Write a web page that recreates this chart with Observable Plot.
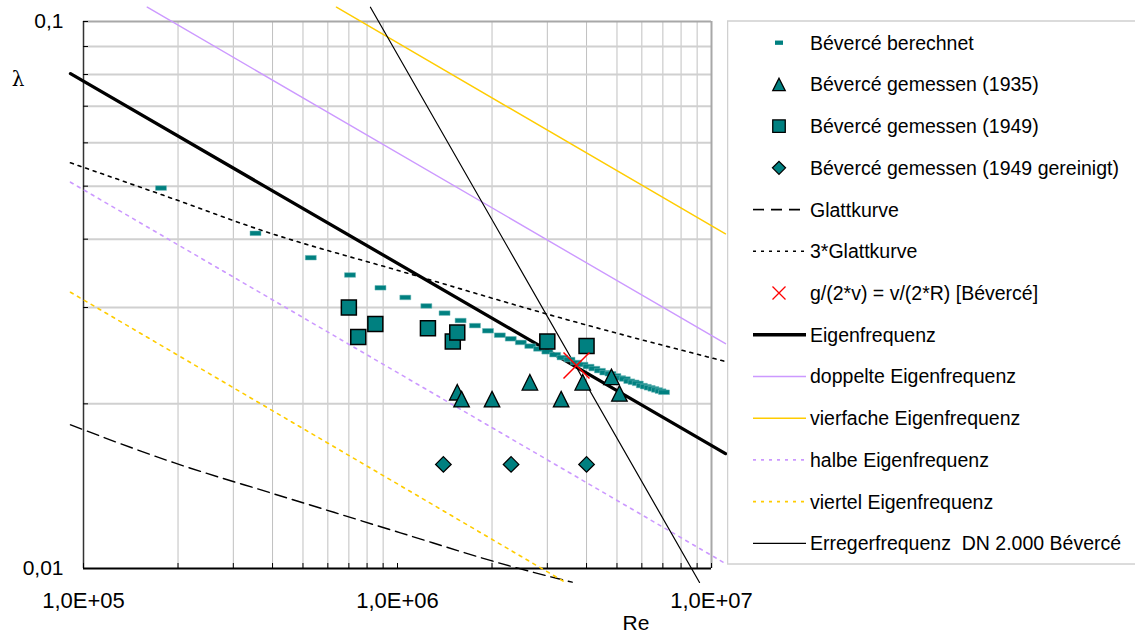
<!DOCTYPE html>
<html><head><meta charset="utf-8">
<script src="https://cdn.jsdelivr.net/npm/d3@7"></script>
<script src="https://cdn.jsdelivr.net/npm/@observablehq/plot@0.6"></script>
<style>
html,body{margin:0;padding:0;background:#fff;overflow:hidden}
#wrap{position:relative;width:1135px;height:634px;font-family:"Liberation Sans",Arial,sans-serif}
#chart{position:absolute;left:0;top:0}
#legend{position:absolute;left:727px;top:0}
</style></head><body>
<div id="wrap"><div id="chart"></div><svg id="legend" width="408" height="634"></svg></div>
<script>
// ---------- axis ticks ----------
const reTicks = [1e5, 1e6, 1e7];
const reTickLabels = ["1,0E+05", "1,0E+06", "1,0E+07"];
const reMinor = [2e5, 3e5, 4e5, 5e5, 6e5, 7e5, 8e5, 9e5, 2e6, 3e6, 4e6, 5e6, 6e6, 7e6, 8e6, 9e6];
const lambdaTicks = [0.01, 0.1];
const lambdaTickLabels = ["0,01", "0,1"];
const lambdaMinor = [0.02, 0.03, 0.04, 0.05, 0.06, 0.07, 0.08, 0.09];

// ---------- scatter series ----------
const berechnetRe = [176500, 353000, 529500, 706000, 882500, 1059000, 1235500, 1412000, 1588500, 1765000,
  1941500, 2118000, 2294500, 2471000, 2647500, 2824000, 3000500, 3177000, 3353500, 3530000,
  3706500, 3883000, 4059500, 4236000, 4412500, 4589000, 4765500, 4942000, 5118500, 5295000,
  5471500, 5648000, 5824500, 6001000, 6177500, 6354000, 6530500, 6707000, 6883500, 7060000];
const berechnetLambda = [0.0496, 0.0410, 0.0370, 0.0344, 0.0326, 0.0313, 0.0302, 0.0293, 0.0284, 0.0278,
  0.0272, 0.0267, 0.0263, 0.0259, 0.0255, 0.0252, 0.0249, 0.0246, 0.0243, 0.0241,
  0.0238, 0.0236, 0.0234, 0.0232, 0.0230, 0.0228, 0.0227, 0.0225, 0.0223, 0.0222,
  0.0220, 0.0219, 0.0218, 0.0216, 0.0215, 0.0214, 0.0213, 0.0212, 0.0211, 0.0210];

const gem1935Re = [1550000, 1600000, 2000000, 2640000, 3320000, 3890000, 4800000, 5090000];
const gem1935Lambda = [0.0210, 0.0204, 0.0204, 0.0219, 0.0204, 0.0219, 0.0224, 0.0209];

const gem1949Re = [700000, 750000, 850000, 1250000, 1500000, 1550000, 3000000, 4000000];
const gem1949Lambda = [0.0300, 0.0265, 0.0280, 0.0275, 0.0260, 0.0270, 0.0260, 0.0255];

const gereinigtRe = [1400000, 2300000, 4000000];
const gereinigtLambda = [0.0155, 0.0155, 0.0155];

const kreuzRe = [3716000];
const kreuzLambda = [0.0235];

// ---------- line series ----------
const glattRe = [90900, 194000, 404000, 627000, 1022000, 2346000, 3600000];
const glattLambda = [0.01831, 0.01561, 0.01369, 0.01267, 0.01162, 0.01006, 0.00944];
const glatt3Re = [90900, 180000, 385000, 1022000, 3470000, 11080000];
const glatt3Lambda = [0.05516, 0.0481, 0.04119, 0.03496, 0.0285, 0.0239];
const eigenRe = [90900, 11080000];
const eigenLambda = [0.0803, 0.01622];
const doppeltRe = [159600, 11080000];
const doppeltLambda = [0.1062, 0.02576];
const vierfachRe = [639000, 11080000];
const vierfachLambda = [0.1062, 0.0409];
const halbeRe = [90900, 11080000];
const halbeLambda = [0.05084, 0.01021];
const viertelRe = [90900, 3428000];
const viertelLambda = [0.03199, 0.00943];
const erregerRe = [820000, 9160000];
const erregerLambda = [0.1062, 0.00943];

const legendLabels = ["Bévercé berechnet", "Bévercé gemessen (1935)", "Bévercé gemessen (1949)",
  "Bévercé gemessen (1949 gereinigt)", "Glattkurve", "3*Glattkurve", "g/(2*v) = v/(2*R) [Bévercé]",
  "Eigenfrequenz", "doppelte Eigenfrequenz", "vierfache Eigenfrequenz", "halbe Eigenfrequenz",
  "viertel Eigenfrequenz", "Erregerfrequenz  DN 2.000 Bévercé"];

const TEAL = "#008080", LILA = "#cc99ff", GELB = "#ffcc00";

const zip = (xs, ys) => xs.map((x, i) => ({x, y: ys[i]}));

// custom marker symbols (s = size in px)
const mk = {
  dash: (w, h) => ({draw(c) { c.rect(-w / 2, -h / 2, w, h); }}),
  square: s => ({draw(c) { c.rect(-s / 2, -s / 2, s, s); }}),
  tri: s => ({draw(c) { c.moveTo(0, -s / 2); c.lineTo(s / 2, s / 2); c.lineTo(-s / 2, s / 2); c.closePath(); }}),
  diamond: s => ({draw(c) { c.moveTo(0, -s / 2); c.lineTo(s / 2, 0); c.lineTo(0, s / 2); c.lineTo(-s / 2, 0); c.closePath(); }}),
  cross: s => ({draw(c) { c.moveTo(-s / 2, -s / 2); c.lineTo(s / 2, s / 2); c.moveTo(s / 2, -s / 2); c.lineTo(-s / 2, s / 2); }})
};

const lineSeries = [
  {data: zip(glattRe, glattLambda), stroke: "#000", w: 1.4, dash: "12,6", curve: "monotone-x"},
  {data: zip(glatt3Re, glatt3Lambda), stroke: "#000", w: 1.6, dash: "3,5", curve: "monotone-x"},
  {data: zip(halbeRe, halbeLambda), stroke: LILA, w: 1.6, dash: "3,5"},
  {data: zip(viertelRe, viertelLambda), stroke: GELB, w: 1.6, dash: "3,5"},
  {data: zip(doppeltRe, doppeltLambda), stroke: LILA, w: 1.4},
  {data: zip(vierfachRe, vierfachLambda), stroke: GELB, w: 1.4},
  {data: zip(eigenRe, eigenLambda), stroke: "#000", w: 3.3},
  {data: zip(erregerRe, erregerLambda), stroke: "#000", w: 1.2}
];

const xFmt = new Map(reTicks.map((d, i) => [d, reTickLabels[i]]));
const yFmt = new Map(lambdaTicks.map((d, i) => [d, lambdaTickLabels[i]]));

const chart = Plot.plot({
  width: 727, height: 634,
  marginLeft: 83, marginRight: 16, marginTop: 21, marginBottom: 66,
  style: {fontFamily: '"Liberation Sans", Arial, sans-serif', background: "transparent", overflow: "visible"},
  x: {type: "log", domain: [1e5, 1e7]},
  y: {type: "log", domain: [0.01, 0.1]},
  marks: [
    Plot.gridX(reMinor, {stroke: "#c0c0c0", strokeOpacity: 1, strokeWidth: 1}),
    Plot.gridY(lambdaMinor, {stroke: "#d0d0d0", strokeOpacity: 1, strokeWidth: 2}),
    Plot.ruleY([0.1], {stroke: "#a8a8a8", strokeWidth: 2}),
    Plot.ruleX([1e7], {stroke: "#a8a8a8", strokeWidth: 2}),
    Plot.ruleX([1e5], {stroke: "#333", strokeWidth: 1.5}),
    Plot.ruleY([0.01], {stroke: "#000", strokeWidth: 2}),
    Plot.axisX({ticks: [...reTicks, ...reMinor], tickSize: -5, tickFormat: () => "", stroke: "#000", label: null}),
    Plot.axisY({ticks: [...lambdaTicks, ...lambdaMinor], tickSize: -5, tickFormat: () => "", stroke: "#000", label: null}),
    Plot.axisX({ticks: reTicks, tickSize: 0, tickPadding: 24, tickFormat: d => xFmt.get(d), fontSize: 22, fill: "#000", label: null}),
    Plot.axisY({ticks: lambdaTicks, tickSize: 0, tickPadding: 20, tickFormat: d => yFmt.get(d), fontSize: 21, fill: "#000", label: null}),
    ...lineSeries.map(s => Plot.line(s.data, {x: "x", y: "y", stroke: s.stroke, strokeWidth: s.w,
      strokeDasharray: s.dash, curve: s.curve || "linear"})),
    Plot.dot(zip(berechnetRe, berechnetLambda), {x: "x", y: "y", symbol: mk.dash(11, 4.6), fill: TEAL, stroke: "#6fb8b8", strokeWidth: 0.5}),
    Plot.dot(zip(gem1935Re, gem1935Lambda), {x: "x", y: "y", symbol: mk.tri(15.5), fill: TEAL, stroke: "#000", strokeWidth: 1.3}),
    Plot.dot(zip(gem1949Re, gem1949Lambda), {x: "x", y: "y", symbol: mk.square(15), fill: TEAL, stroke: "#000", strokeWidth: 1.5}),
    Plot.dot(zip(gereinigtRe, gereinigtLambda), {x: "x", y: "y", symbol: mk.diamond(15.5), fill: TEAL, stroke: "#000", strokeWidth: 1.3}),
    Plot.dot(zip(kreuzRe, kreuzLambda), {x: "x", y: "y", symbol: mk.cross(26), fill: "none", stroke: "#ff0000", strokeWidth: 1.5})
  ]
});
document.getElementById("chart").appendChild(chart);

// axis titles
const svg = d3.select(chart);
svg.append("text").attr("x", 18).attr("y", 86).attr("text-anchor", "middle")
  .attr("font-size", 20).attr("font-family", '"DejaVu Serif", serif').attr("fill", "#000").text("λ");
svg.append("text").attr("x", 636).attr("y", 630).attr("text-anchor", "middle")
  .attr("font-size", 21).attr("fill", "#000").text("Re");

// legend
const lg = d3.select("#legend");
lg.append("rect").attr("x", 0.5).attr("y", 21).attr("width", 430).attr("height", 543)
  .attr("fill", "#fff").attr("stroke", "#d0d0d0").attr("stroke-width", 1.5);
const rowY = i => 42.7 + i * 41.72;
const symPath = s => d3.symbol(s)();
const legendSyms = [
  {type: "sym", s: mk.dash(8, 4.3), fill: TEAL, stroke: "none"},
  {type: "sym", s: mk.tri(12.5), fill: TEAL, stroke: "#000"},
  {type: "sym", s: mk.square(12.5), fill: TEAL, stroke: "#000"},
  {type: "sym", s: mk.diamond(13), fill: TEAL, stroke: "#000"},
  {type: "line", stroke: "#000", w: 1.6, dash: "11,7"},
  {type: "line", stroke: "#000", w: 1.6, dash: "3,5"},
  {type: "sym", s: mk.cross(13), fill: "none", stroke: "#ff0000"},
  {type: "line", stroke: "#000", w: 3.3},
  {type: "line", stroke: LILA, w: 1.5},
  {type: "line", stroke: GELB, w: 1.5},
  {type: "line", stroke: LILA, w: 1.6, dash: "3,5"},
  {type: "line", stroke: GELB, w: 1.6, dash: "3,5"},
  {type: "line", stroke: "#000", w: 1.2}
];
legendLabels.forEach((lab, i) => {
  const y = rowY(i), sy = legendSyms[i];
  if (sy.type === "sym") {
    lg.append("path").attr("d", symPath(sy.s)).attr("transform", `translate(52,${y})`)
      .attr("fill", sy.fill).attr("stroke", sy.stroke).attr("stroke-width", 1.3);
  } else {
    lg.append("line").attr("x1", 26).attr("x2", 79).attr("y1", y).attr("y2", y)
      .attr("stroke", sy.stroke).attr("stroke-width", sy.w).attr("stroke-dasharray", sy.dash || null);
  }
  lg.append("text").attr("x", 83).attr("y", y).attr("dy", "0.36em")
    .attr("font-size", 19.5).attr("font-family", '"Liberation Sans", Arial, sans-serif')
    .attr("fill", "#000").style("white-space", "pre").text(lab);
});
</script>
</body></html>
